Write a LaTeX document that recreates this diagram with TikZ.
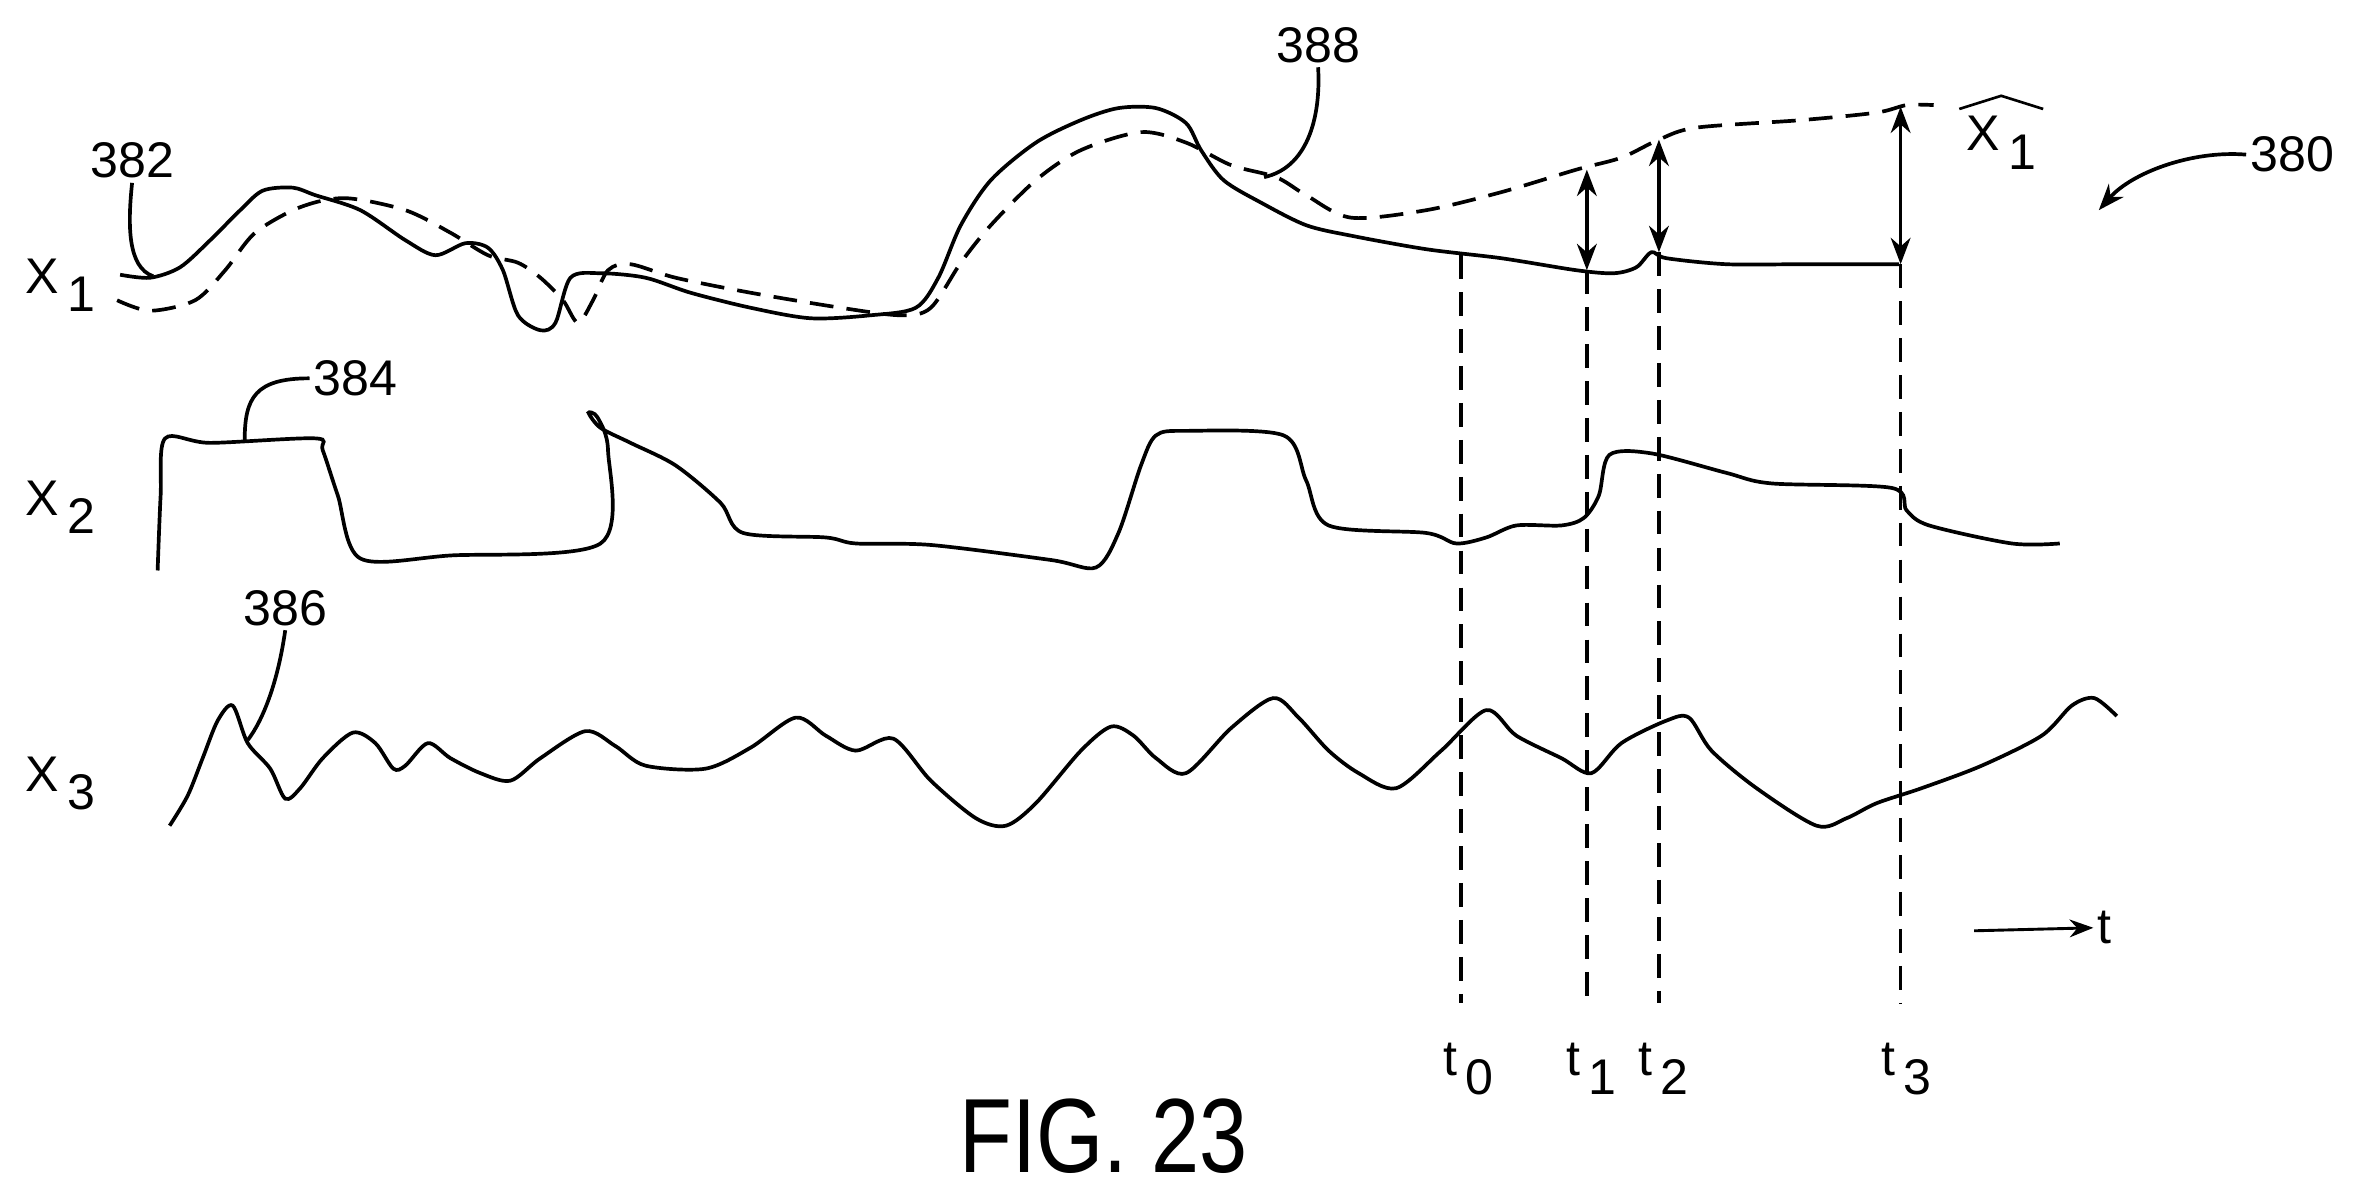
\documentclass[tikz,border=0pt]{standalone}
\usepackage{fontspec}
\setmainfont{Liberation Sans}
\usetikzlibrary{arrows.meta}
\newcommand{\sbx}[1]{\,\raisebox{-0.7ex}{#1}}
\begin{document}
\begin{tikzpicture}[x=0.02cm,y=-0.02cm,line width=1.4pt,
  sig/.style={smooth,tension=0.5},
  lab/.style={font=\fontsize{19}{22}\selectfont,inner sep=1pt},
  dashln/.style={dash pattern=on 9pt off 5pt},
  dbl/.style={{Stealth[length=10pt]}-{Stealth[length=10pt]}}]
\useasboundingbox (0,0) rectangle (1568,797);
% X1 solid
\draw[sig] plot coordinates {(80,183)(100,185)(120,178)(140,160)(160,140)(175,127)(195,125)(210,130)(240,140)(270,160)(290,170)(310,162)(325,165)(335,180)(345,210)(360,220)(370,215)(380,185)(400,182)(430,185)(460,195)(500,205)(540,212)(580,210)(610,205)(625,185)(640,150)(660,120)(690,95)(720,80)(745,72)(770,72)(790,82)(800,100)(815,120)(840,135)(870,150)(900,157)(950,166)(1000,172)(1050,180)(1075,182)(1090,178)(1100,168)(1110,172)(1150,176)(1200,176)(1265,176)};
% X1 hat dashed
\draw[sig,dashln] plot coordinates {(78,200)(100,207)(130,200)(150,180)(170,155)(200,138)(230,132)(270,140)(300,155)(325,170)(345,175)(360,185)(375,200)(385,215)(395,200)(405,180)(420,176)(450,185)(500,195)(560,205)(600,210)(620,205)(640,175)(660,150)(690,120)(720,100)(760,88)(790,95)(820,110)(850,118)(870,130)(900,145)(950,140)(1000,128)(1050,113)(1080,105)(1105,93)(1130,85)(1200,80)(1250,75)(1270,70)(1288,70)};
% X2
\draw[sig] plot coordinates {(105,380)(107,330)(110,292)(140,295)(210,292)(215,300)(225,330)(240,372)(300,370)(400,362)(405,300)(398,278)(392,275)(400,285)(420,295)(450,310)(480,335)(495,355)(550,358)(570,362)(620,363)(700,373)(730,378)(745,355)(760,310)(770,290)(790,287)(855,290)(870,320)(885,350)(950,355)(970,362)(990,358)(1010,350)(1040,350)(1055,345)(1065,330)(1072,303)(1100,302)(1150,315)(1180,322)(1260,325)(1270,340)(1285,350)(1340,362)(1372,362)};
% X3
\draw[sig] plot coordinates {(113,550)(125,530)(135,505)(145,480)(155,470)(165,495)(180,512)(190,532)(200,525)(215,505)(235,488)(250,495)(262,512)(270,510)(285,495)(300,505)(320,515)(340,520)(360,505)(390,487)(410,497)(430,510)(470,512)(500,498)(530,478)(550,490)(570,500)(595,492)(620,520)(650,545)(670,550)(690,535)(720,500)(740,484)(755,490)(770,505)(790,515)(820,485)(848,465)(865,478)(885,500)(905,515)(930,525)(960,500)(990,473)(1010,490)(1040,505)(1060,515)(1080,495)(1110,480)(1125,478)(1140,500)(1170,525)(1210,550)(1230,545)(1250,535)(1280,525)(1320,510)(1360,490)(1380,470)(1395,465)(1410,477)};
% vertical dashed lines
\coordinate (a0) at (973,170); \coordinate (b0) at (973,668);
\coordinate (a1) at (1057,180); \coordinate (b1) at (1057,668);
\coordinate (a2) at (1105,168); \coordinate (b2) at (1105,668);
\coordinate (a3) at (1266,176); \coordinate (b3) at (1266,668);
\foreach \i in {0,1,2,3} \draw[dashln] (a\i) -- (b\i);
% double arrows
\coordinate (h1) at (1057,113); \coordinate (h2) at (1105,93); \coordinate (h3) at (1266,71);
\draw[dbl] (h1) -- (a1);
\draw[dbl] (h2) -- (a2);
\draw[dbl] (h3) -- (a3);
% labels
\node[lab] (x1) at (40,190) {X\sbx{1}};
\node[lab] (x2) at (40,338) {X\sbx{2}};
\node[lab] (x3) at (40,522) {X\sbx{3}};
\node[lab] (xh) at (1333,95) {X\sbx{1}};
\draw[line width=1pt] ([xshift=-1pt,yshift=1pt]xh.north west) -- ([yshift=6pt]xh.north) -- ([xshift=1pt,yshift=1pt]xh.north east);
\node[lab] (t0) at (978,712) {t\sbx{0}};
\node[lab] (t1) at (1060,712) {t\sbx{1}};
\node[lab] (t2) at (1108,712) {t\sbx{2}};
\node[lab] (t3) at (1270,712) {t\sbx{3}};
\node[lab] (tt) at (1402,618) {t};
\coordinate (ts) at (1315,620);
\draw[-{Stealth[length=9pt]},line width=1.1pt] (ts) -- (tt.west);
\node[lab] (n382) at (88,107) {382};
\draw (n382.south) .. controls (85,150) and (85,178) .. (102,184);
\node[lab] (n388) at (878,30) {388};
\draw (n388.south) .. controls (880,80) and (870,112) .. (842,118);
\node[lab] (n384) at (237,252) {384};
\draw (n384.west) .. controls (170,252) and (163,265) .. (163,293);
\node[lab] (n386) at (190,405) {386};
\draw (n386.south) .. controls (185,455) and (175,480) .. (165,493);
\node[lab] (n380) at (1527,103) {380};
\coordinate (e380) at (1398,140);
\draw[-{Stealth[length=10pt]}] (n380.west) .. controls (1460,100) and (1420,115) .. (e380);
\node[font=\fontsize{40}{44}\selectfont,xscale=0.82] (fig) at (735,757) {FIG. 23};
\end{tikzpicture}
\end{document}
